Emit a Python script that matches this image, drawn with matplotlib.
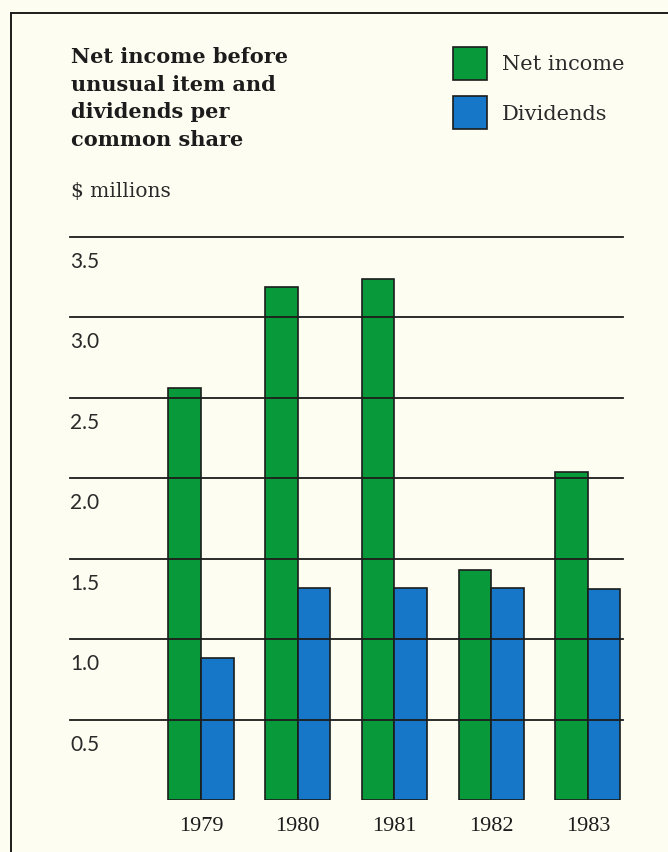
import matplotlib.pyplot as plt
import matplotlib.transforms as mtransforms
import numpy as np

# values per common share
years = ["1979", "1980", "1981", "1982", "1983"]
net_income = [2.56, 3.19, 3.24, 1.43, 2.04]
dividends = [0.88, 1.32, 1.32, 1.32, 1.31]
grid_values = [0.5, 1.0, 1.5, 2.0, 2.5, 3.0, 3.5]
grid_labels = ["0.5", "1.0", "1.5", "2.0", "2.5", "3.0", "3.5"]

title = "Net income before\nunusual item and\ndividends per\ncommon share"
unit_label = "$ millions"

# colours
bg = "#fdfdf2"
green = "#089a3a"
blue = "#1676c8"
ink = "#1c1c1c"
word_font = ["DejaVu Serif"]
year_font = ["Liberation Serif", "DejaVu Serif"]
scale_font = ["Lato", "DejaVu Sans"]

W, H = 668, 852
fig = plt.figure(figsize=(W / 100, H / 100), dpi=100, facecolor=bg)


def fx(px):
    return px / W


def fy(py):
    return 1 - py / H


# page frame (runs off the right and bottom edges)
fig.add_artist(plt.Line2D([fx(11), 1.0], [fy(13), fy(13)], color=ink, lw=1.4))
fig.add_artist(plt.Line2D([fx(11), fx(11)], [fy(13), 0.0], color=ink, lw=1.4))

fig.text(fx(71), fy(47), title, family=word_font, fontweight="bold", fontsize=15,
         color=ink, va="top", ha="left", linespacing=1.48)
fig.text(fx(71), fy(197), unit_label, family=word_font, fontsize=14.5,
         color="#2a2a2a", va="baseline", ha="left")

# legend swatches
for top, col, lab in [(47, green, "Net income"), (96, blue, "Dividends")]:
    fig.add_artist(plt.Rectangle((fx(453), fy(top + 33)), fx(34), 33 / H,
                                 facecolor=col, edgecolor=ink, lw=1.2))
    fig.text(fx(502), fy(top + 18), lab, family=word_font, fontsize=15,
             color="#2a2a2a", va="center", ha="left")

ax = fig.add_axes([fx(70), fy(800), fx(623) - fx(70), (800 - 236.7) / H])
ax.set_facecolor(bg)

x = np.arange(len(years))
width = 0.336
ax.bar(x - width / 2, net_income, width, color=green, edgecolor=ink, lw=1.2, zorder=2)
ax.bar(x + width / 2, dividends, width, color=blue, edgecolor=ink, lw=1.2, zorder=2)

# horizontal rules sit on top of the bars
for v in grid_values:
    ax.axhline(v, color=ink, lw=1.3, zorder=3, clip_on=False)

ax.set_xlim(-1.354, 4.362)
ax.set_ylim(0, 3.5)

# scale labels hang just under each rule
lab_tr = mtransforms.offset_copy(ax.get_yaxis_transform(), fig=fig, y=-15, units="dots")
for v, s in zip(grid_values, grid_labels):
    ax.text(0.0, v, s, transform=lab_tr, family=scale_font, fontsize=15,
            color="#2a2a2a", va="top", ha="left")

ax.set_yticks([])
ax.set_xticks(x)
ax.set_xticklabels(years, family=year_font, fontsize=16, color=ink)
ax.tick_params(axis="x", length=0, pad=12)
for sp in ax.spines.values():
    sp.set_visible(False)

fig.savefig("out.png", dpi=100, facecolor=bg)
